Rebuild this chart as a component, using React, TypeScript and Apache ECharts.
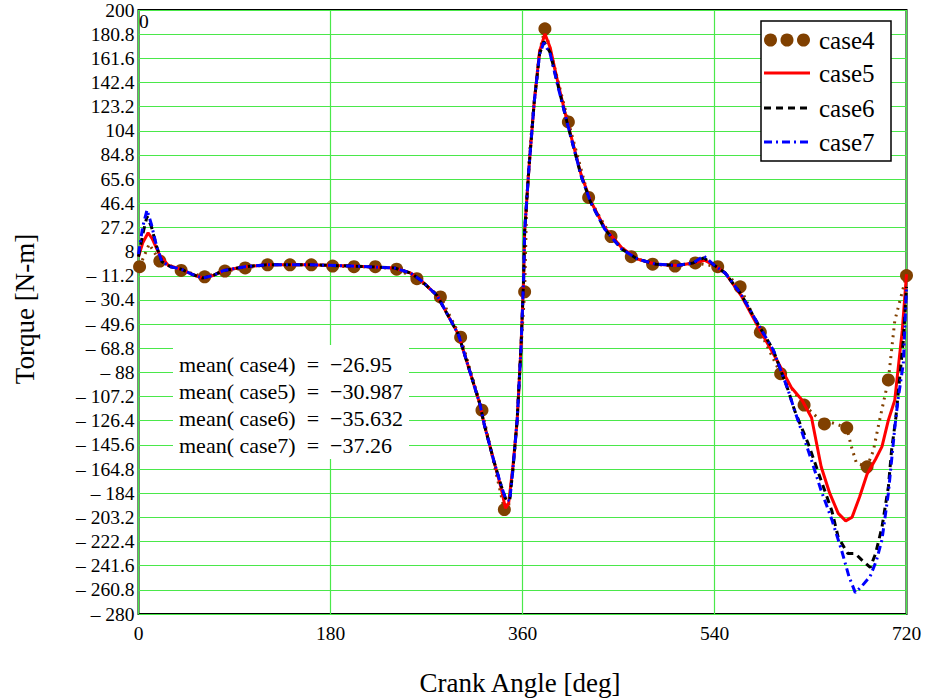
import { useEffect, useRef } from "react";
import * as echarts from "echarts";

// ---------- data ----------
const xTicks = [0, 180, 360, 540, 720];
const yMin = -280;
const yMax = 200;
const yStep = 19.2;

// case4: marker points
const angles4 = [1, 20, 40, 62, 81, 100, 121, 142, 162, 182, 202, 222, 242, 261, 283, 302, 322, 343, 362, 381, 403, 422, 443, 462, 482, 503, 522, 543, 564, 583, 602, 624, 643, 664, 683, 703, 720];
const torque4 = [-4, 0.5, -7, -12, -7.5, -5, -2.5, -2.5, -2.5, -3.5, -4, -4, -6, -13.5, -28, -60, -118, -197, -24, 185, 111, 51, 20, 4, -2, -3.5, -1, -4, -20, -56, -89, -114, -129, -132, -163, -94, -11];
// case4: extra dotted-line vertices (no marker)
const angles4Path = [10, 347, 351, 355, 358.6, 364, 367, 371, 376, 650, 668, 673, 689, 694, 709];
const torque4Path = [14, -194, -165, -126, -68, 50, 90, 127, 167, -128, -146, -160, -150, -129, -47];

const angles5 = [0, 4, 9, 13, 20, 28, 40, 50, 60, 70, 80, 100, 120, 160, 200, 240, 255, 265, 280, 300, 320, 324, 333, 340, 344, 347, 351, 355, 358.6, 361, 362, 366, 371, 376, 381, 386, 393, 402, 415, 424, 437, 453, 468, 485, 505, 520, 531, 540, 550, 565, 581, 597, 612, 622, 631, 640, 648, 656, 663, 669, 676, 683, 691, 697, 703, 709, 716, 720];
const torque5 = [4, 15, 23, 18, 5, -3, -6, -10, -13, -11, -7, -4, -2.5, -2.5, -3.5, -5, -9, -15, -27, -58, -113, -129, -158, -180, -196, -192, -163, -126, -68, -15, 24, 74, 127, 167, 181, 170, 143, 111, 69, 48, 27, 11, 2, -2, -3, -1, 1, -3, -9, -27, -52, -76, -100, -110, -124, -163, -184, -200, -206, -203, -187, -169, -157, -147, -126, -110, -55, -10];

const angles6 = [0, 4, 8, 12, 17, 22, 30, 40, 50, 60, 70, 80, 100, 120, 160, 200, 240, 255, 265, 280, 300, 320, 324, 333, 340, 344, 348, 351, 355, 358.6, 361, 362, 366, 371, 376, 380, 386, 393, 402, 415, 424, 437, 453, 468, 485, 505, 520, 530, 540, 550, 565, 581, 595, 609, 615, 628, 640, 650, 656, 665, 672, 678, 686, 691, 697, 703, 706, 710, 717, 720];
const torque6 = [4, 22, 36, 28, 12, 0, -4, -6, -10, -13, -11, -7, -4, -2.5, -2.5, -3.5, -5, -9, -15, -27, -58, -113, -129, -158, -178, -188, -190, -165, -126, -68, -15, 24, 74, 127, 165, 175, 166, 141, 110, 68, 47, 26, 10, 2, -2, -3, -1, 3, -3, -9, -26, -50, -70, -102, -118, -145, -174, -198, -219, -232, -232, -237, -243, -232, -211, -179, -150, -124, -63, -20];

const angles7 = [0, 4, 8, 12, 17, 22, 30, 40, 50, 60, 70, 80, 100, 120, 160, 200, 240, 255, 265, 280, 300, 320, 324, 333, 340, 344, 348, 351, 355, 358.6, 361, 362, 366, 371, 376, 380, 386, 393, 402, 415, 424, 437, 453, 468, 485, 505, 520, 530, 540, 550, 565, 581, 595, 609, 615, 631, 640, 650, 659, 666, 672, 678, 686, 692, 697, 703, 706, 709, 712, 717, 720];
const torque7 = [6, 28, 41, 30, 12, 0, -4, -6, -10, -13, -11, -7, -4, -2.5, -2.5, -3.5, -5, -9, -15, -27, -58, -113, -129, -158, -178, -188, -190, -165, -126, -68, -15, 24, 74, 127, 165, 174, 165, 140, 110, 68, 47, 26, 10, 2, -2, -3, -1, 4.5, -3, -9, -26, -50, -70, -102, -118, -158, -182, -205, -229, -250, -263, -258, -250, -237, -221, -184, -158, -132, -110, -81, -20];

const seriesNames = ["case4", "case5", "case6", "case7"];
const seriesColors = ["#804000", "#ff0000", "#000000", "#0000ff"];
const meanValues = ["−26.95", "−30.987", "−35.632", "−37.26"];

const xTitle = "Crank Angle [deg]";
const yTitle = "Torque [N-m]";

// ---------- styling ----------
const SERIF = "'Liberation Serif', 'Times New Roman', serif";
const GREEN = "#4ae84a";
const dashes: (number[] | null)[] = [null, null, [7, 5], [8, 4, 2, 4]];

function pairs(xs: number[], ys: number[]) {
  return xs.map((x, i) => [x, ys[i]]);
}

function fmtY(k: number) {
  const v = Math.round((yMin + k * yStep) * 10) / 10;
  return v < 0 ? "– " + Math.abs(v) : String(v);
}

export default function App() {
  const ref = useRef<HTMLDivElement>(null);

  useEffect(() => {
    if (!ref.current) return;
    const chart = echarts.init(ref.current, null, { renderer: "svg" });

    const case4Data = [
      ...angles4.map((a, i) => ({ value: [a, torque4[i]] })),
      ...angles4Path.map((a, i) => ({ value: [a, torque4Path[i]], symbol: "none" })),
    ].sort((p, q) => p.value[0] - q.value[0]);

    const nSteps = Math.round((yMax - yMin) / yStep);

    const meanTexts = seriesNames.map((n, i) => ({
      type: "text",
      x: 179,
      y: 364 + i * 27,
      z: 101,
      style: {
        text: "mean( " + n + ")  =  " + meanValues[i],
        fontFamily: SERIF,
        fontSize: 22,
        fill: "#000",
        align: "left",
        verticalAlign: "middle",
      },
    }));

    // legend drawn as graphic
    const legX = 761, legY = 21, legW = 130, legH = 140;
    const rowY = [40, 73, 108, 142];
    const iconX0 = 764, iconX1 = 810;
    const legendEls: any[] = [
      {
        type: "rect",
        z: 100,
        shape: { x: legX, y: legY, width: legW, height: legH },
        style: { fill: "#fff", stroke: "#000", lineWidth: 1.5 },
      },
    ];
    seriesNames.forEach((n, i) => {
      if (i === 0) {
        [770.5, 787, 803.5].forEach((cx) =>
          legendEls.push({
            type: "circle",
            z: 101,
            shape: { cx, cy: rowY[i], r: 6.5 },
            style: { fill: seriesColors[i] },
          })
        );
      } else {
        legendEls.push({
          type: "line",
          z: 101,
          shape: { x1: iconX0, y1: rowY[i], x2: iconX1, y2: rowY[i] },
          style: { stroke: seriesColors[i], lineWidth: 3, lineDash: dashes[i] || undefined },
        });
      }
      legendEls.push({
        type: "text",
        z: 101,
        x: 819,
        y: rowY[i],
        style: { text: n, fontFamily: SERIF, fontSize: 25, fill: "#000", align: "left", verticalAlign: "middle" },
      });
    });

    chart.setOption({
      animation: false,
      backgroundColor: "#fff",
      grid: {
        left: 138.5,
        right: 21.5,
        top: 7,
        bottom: 85,
        show: true,
        borderColor: "#000",
        borderWidth: 2,
        backgroundColor: "#fff",
      },
      xAxis: {
        type: "value",
        min: xTicks[0],
        max: xTicks[xTicks.length - 1],
        interval: xTicks[1] - xTicks[0],
        axisLine: { show: false },
        axisTick: { show: false },
        axisLabel: { fontFamily: SERIF, fontSize: 19.5, color: "#000", margin: 9 },
        splitLine: { show: true, lineStyle: { color: GREEN, width: 1.2 } },
      },
      yAxis: [
        {
          type: "value",
          min: 0,
          max: nSteps,
          interval: 1,
          position: "left",
          axisLine: { show: false },
          axisTick: { show: false },
          axisLabel: {
            fontFamily: SERIF,
            fontSize: 19.5,
            color: "#000",
            margin: 4,
            formatter: (k: number) => fmtY(k),
          },
          splitLine: { show: true, lineStyle: { color: GREEN, width: 1.2 } },
        },
        {
          type: "value",
          min: yMin,
          max: yMax,
          show: false,
          splitLine: { show: false },
        },
      ],
      series: [
        {
          name: seriesNames[0],
          type: "line",
          yAxisIndex: 1,
          data: case4Data,
          symbol: "circle",
          symbolSize: 13,
          showAllSymbol: true,
          itemStyle: { color: seriesColors[0] },
          lineStyle: { color: seriesColors[0], width: 3, type: [2, 5] },
          z: 2,
        },
        {
          name: seriesNames[1],
          type: "line",
          yAxisIndex: 1,
          data: pairs(angles5, torque5),
          symbol: "none",
          itemStyle: { color: seriesColors[1] },
          lineStyle: { color: seriesColors[1], width: 3, type: "solid" },
          z: 3,
        },
        {
          name: seriesNames[2],
          type: "line",
          yAxisIndex: 1,
          data: pairs(angles6, torque6),
          symbol: "none",
          itemStyle: { color: seriesColors[2] },
          lineStyle: { color: seriesColors[2], width: 3, type: dashes[2] },
          z: 4,
        },
        {
          name: seriesNames[3],
          type: "line",
          yAxisIndex: 1,
          data: pairs(angles7, torque7),
          symbol: "none",
          itemStyle: { color: seriesColors[3] },
          lineStyle: { color: seriesColors[3], width: 3, type: dashes[3] },
          z: 5,
        },
      ],
      graphic: [
        {
          type: "text",
          x: 139,
          y: 21,
          style: { text: "0", fontFamily: SERIF, fontSize: 19.5, fill: "#000", align: "left", verticalAlign: "middle" },
        },
        {
          type: "text",
          x: 25,
          y: 309,
          rotation: Math.PI / 2,
          style: { text: yTitle, fontFamily: SERIF, fontSize: 27, fill: "#000", align: "center", verticalAlign: "middle" },
        },
        {
          type: "text",
          x: 520,
          y: 683,
          style: { text: xTitle, fontFamily: SERIF, fontSize: 27, fill: "#000", align: "center", verticalAlign: "middle" },
        },
        {
          type: "rect",
          z: 100,
          shape: { x: 173, y: 345, width: 236, height: 114 },
          style: { fill: "#fff" },
        },
        ...meanTexts,
        ...legendEls,
      ],
    });

    return () => chart.dispose();
  }, []);

  return (
    <div
      ref={ref}
      style={{ position: "absolute", left: 0, top: 0, width: 928, height: 699 }}
    />
  );
}
